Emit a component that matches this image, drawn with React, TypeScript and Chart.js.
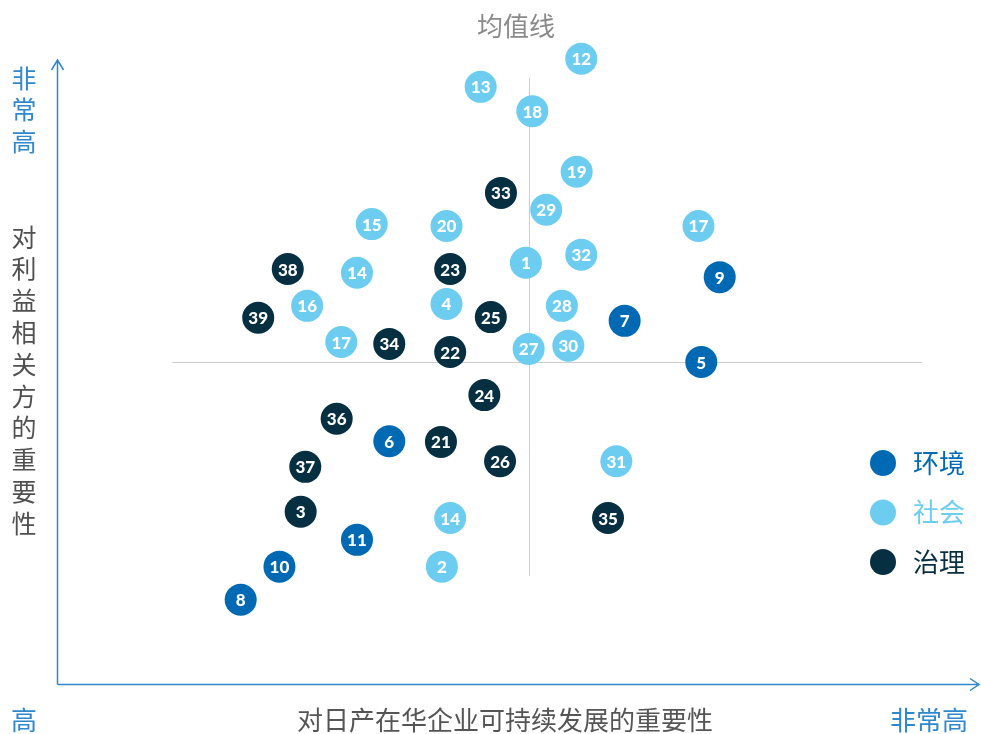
import React, { useEffect, useRef } from "react";
import { Chart, registerables } from "chart.js";

Chart.register(...registerables);

// Categories (legend)
const categories = ["环境", "社会", "治理"];
const categoryColors = ["#0069b4", "#6dcdf0", "#062f42"];

// Environment issues
const envIds = [9, 7, 5, 6, 11, 10, 8];
const envX = [71.8, 61.5, 69.8, 36.0, 32.5, 24.1, 19.9];
const envY = [65.2, 58.2, 51.6, 38.9, 23.1, 18.8, 13.5];

// Social issues
const socIds = [12, 13, 18, 19, 29, 15, 20, 17, 1, 32, 14, 4, 16, 28, 17, 27, 30, 31, 14, 2];
const socX = [56.8, 45.9, 51.5, 56.3, 53.0, 34.1, 42.2, 69.5, 50.8, 56.8, 32.5, 42.2, 27.1, 54.7, 30.8, 51.1, 55.4, 60.6, 42.6, 41.7];
const socY = [100.2, 95.7, 91.8, 82.1, 76.0, 73.7, 73.4, 73.4, 67.5, 68.8, 65.9, 60.9, 60.6, 60.6, 54.8, 53.7, 54.2, 35.7, 26.6, 18.8];

// Governance issues
const govIds = [33, 38, 23, 39, 25, 34, 22, 24, 36, 21, 26, 37, 3, 35];
const govX = [48.1, 25.0, 42.6, 21.8, 47.0, 36.0, 42.6, 46.3, 30.3, 41.6, 48.0, 26.9, 26.4, 59.7];
const govY = [78.7, 66.5, 66.5, 58.7, 58.8, 54.5, 53.2, 46.3, 42.5, 38.8, 35.7, 34.8, 27.6, 26.6];

// Mean lines
const meanX = 51.1;
const meanY = 51.6;
const meanXRange = [12.5, 93.7]; // horizontal mean line extent (x values)
const meanYRange = [17.3, 97.1]; // vertical mean line extent (y values)

// Text
const titleMean = "均值线";
const xTitle = "对日产在华企业可持续发展的重要性";
const yTitle = "对利益相关方的重要性";
const lowLabel = "高";
const highLabel = "非常高";

const FONT = '"Noto Sans CJK SC", "Noto Sans", sans-serif';
const AXIS_BLUE = "#2f88cc";

const toPoints = (xs: number[], ys: number[]) => xs.map((x, i) => ({ x, y: ys[i] }));

const decorPlugin = {
  id: "decor",
  beforeDatasetsDraw(chart: any) {
    const { ctx, chartArea, scales } = chart;
    const xs = scales.x;
    const ys = scales.y;
    ctx.save();
    // mean lines
    ctx.strokeStyle = "#cccccc";
    ctx.lineWidth = 1;
    const mx = Math.round(xs.getPixelForValue(meanX)) + 0.5;
    const my = Math.round(ys.getPixelForValue(meanY)) + 0.5;
    ctx.beginPath();
    ctx.moveTo(mx, ys.getPixelForValue(meanYRange[1]));
    ctx.lineTo(mx, ys.getPixelForValue(meanYRange[0]));
    ctx.moveTo(xs.getPixelForValue(meanXRange[0]), my);
    ctx.lineTo(xs.getPixelForValue(meanXRange[1]), my);
    ctx.stroke();

    // axes
    const left = Math.round(chartArea.left) + 0.5;
    const bottom = Math.round(chartArea.bottom) + 0.5;
    const top = chartArea.top;
    const right = chartArea.right - 1;
    ctx.strokeStyle = AXIS_BLUE;
    ctx.lineWidth = 1.5;
    ctx.beginPath();
    ctx.moveTo(left, bottom);
    ctx.lineTo(left, top);
    ctx.moveTo(left, bottom);
    ctx.lineTo(right, bottom);
    // arrow heads
    ctx.moveTo(left - 6, top + 10);
    ctx.lineTo(left, top);
    ctx.lineTo(left + 6, top + 10);
    ctx.moveTo(right - 9, bottom - 6);
    ctx.lineTo(right, bottom);
    ctx.lineTo(right - 9, bottom + 6);
    ctx.stroke();

    // texts
    ctx.textAlign = "center";
    ctx.textBaseline = "middle";
    ctx.font = `26px ${FONT}`;
    ctx.fillStyle = "#8a8a8a";
    ctx.fillText(titleMean, 516, 26);

    ctx.fillStyle = "#555555";
    ctx.fillText(xTitle, 505, 720);

    ctx.fillStyle = AXIS_BLUE;
    ctx.fillText(lowLabel, 24, 720);
    ctx.fillText(highLabel, 929, 720);

    // vertical labels
    ctx.font = `25px ${FONT}`;
    const hi = Array.from(highLabel);
    hi.forEach((ch, i) => ctx.fillText(ch, 24, 78 + i * 31.5));

    ctx.fillStyle = "#505050";
    const yt = Array.from(yTitle);
    yt.forEach((ch, i) => ctx.fillText(ch, 24, 237 + i * 31.8));

    // legend
    categories.forEach((c, i) => {
      const cy = 463 + i * 49.5;
      ctx.fillStyle = categoryColors[i];
      ctx.beginPath();
      ctx.arc(883, cy, 13, 0, Math.PI * 2);
      ctx.fill();
      ctx.textAlign = "left";
      ctx.font = `26px ${FONT}`;
      ctx.fillText(c, 913, cy);
    });
    ctx.restore();
  },
  afterDatasetsDraw(chart: any) {
    const { ctx } = chart;
    const idLists = [envIds, socIds, govIds];
    ctx.save();
    ctx.fillStyle = "#ffffff";
    ctx.textAlign = "center";
    ctx.textBaseline = "middle";
    ctx.font = `900 17px Lato, "Noto Sans", sans-serif`;
    chart.data.datasets.forEach((_: any, di: number) => {
      const meta = chart.getDatasetMeta(di);
      meta.data.forEach((pt: any, i: number) => {
        ctx.fillText(String(idLists[di][i]), pt.x, pt.y + 1);
      });
    });
    ctx.restore();
  },
};

export default function App() {
  const ref = useRef<HTMLCanvasElement>(null);
  useEffect(() => {
    if (!ref.current) return;
    const chart = new Chart(ref.current, {
      type: "scatter",
      data: {
        datasets: [
          { label: categories[0], data: toPoints(envX, envY), backgroundColor: categoryColors[0] },
          { label: categories[1], data: toPoints(socX, socY), backgroundColor: categoryColors[1] },
          { label: categories[2], data: toPoints(govX, govY), backgroundColor: categoryColors[2] },
        ].map((d) => ({
          ...d,
          pointRadius: 16,
          pointHoverRadius: 16,
          borderWidth: 0,
          clip: false as any,
        })),
      },
      options: {
        responsive: true,
        maintainAspectRatio: false,
        animation: false,
        devicePixelRatio: 1,
        layout: { autoPadding: false, padding: { left: 57, right: 1, top: 60, bottom: 50 } },
        scales: {
          x: { type: "linear", min: 0, max: 100, display: false },
          y: { type: "linear", min: 0, max: 100, display: false },
        },
        plugins: {
          legend: { display: false },
          tooltip: { enabled: false },
        },
        events: [],
      },
      plugins: [decorPlugin],
    });
    return () => chart.destroy();
  }, []);
  return (
    <div style={{ position: "fixed", left: 0, top: 0, width: 981, height: 734, background: "#fff" }}>
      <canvas ref={ref} />
    </div>
  );
}
